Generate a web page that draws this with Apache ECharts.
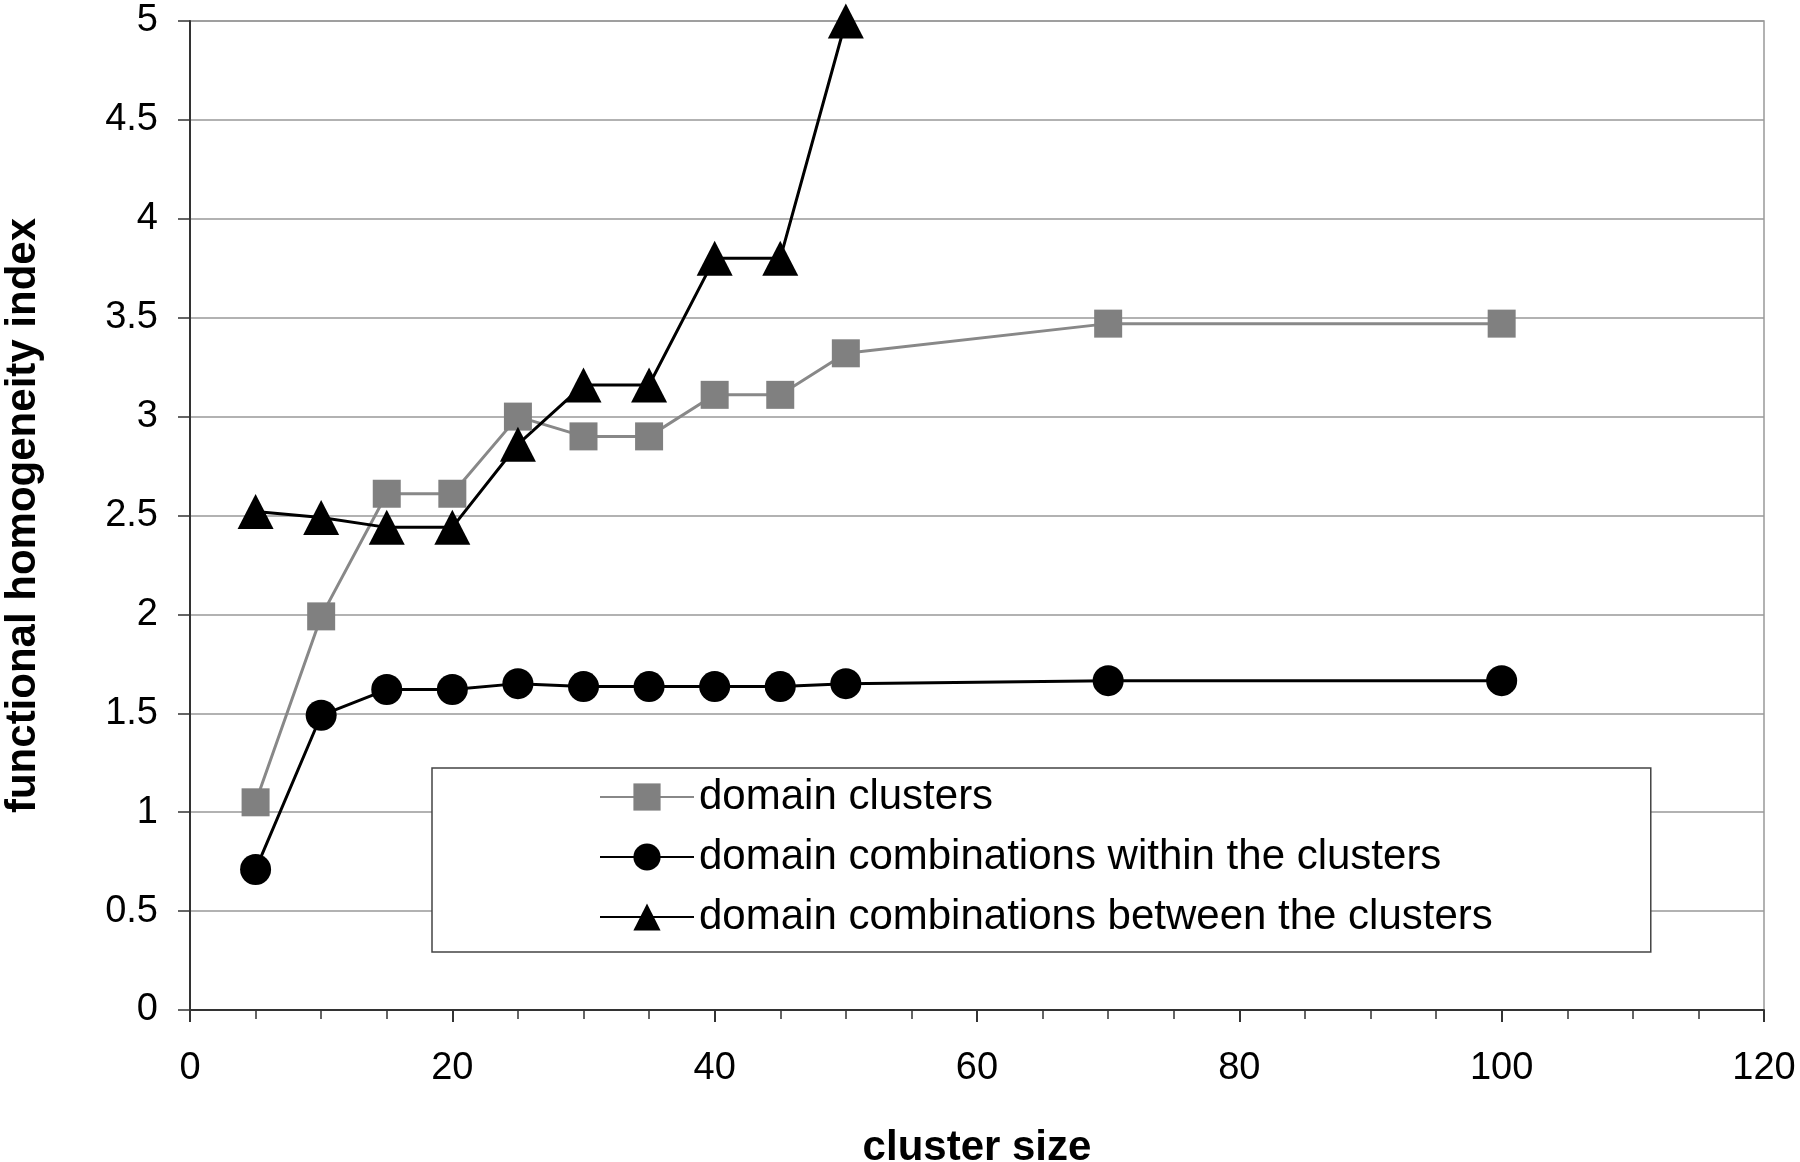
<!DOCTYPE html>
<html>
<head>
<meta charset="utf-8">
<title>functional homogeneity index</title>
<script src="https://cdn.jsdelivr.net/npm/echarts@6/dist/echarts.min.js"></script>
<style>
    html, body { margin: 0; padding: 0; background: #fff; }
    #chart { width: 1800px; height: 1162px; }
</style>
</head>
<body>
<div id="chart"></div>
<script>
// cluster sizes (x)
var clusterSizes = [5, 10, 15, 20, 25, 30, 35, 40, 45, 50, 70, 100];
var betweenSizes = [5, 10, 15, 20, 25, 30, 35, 40, 45, 50];

// functional homogeneity index (y)
var domainClusters = [1.05, 1.99, 2.61, 2.61, 3.0, 2.9, 2.9, 3.11, 3.11, 3.32, 3.47, 3.47];
var withinClusters = [0.71, 1.49, 1.62, 1.62, 1.65, 1.635, 1.635, 1.635, 1.635, 1.65, 1.665, 1.665];
var betweenClusters = [2.52, 2.49, 2.44, 2.44, 2.86, 3.16, 3.16, 3.8, 3.8, 5.0];

var seriesNames = [
    'domain clusters',
    'domain combinations within the clusters',
    'domain combinations between the clusters'
];

var FONT = '"Liberation Sans", Arial, Helvetica, sans-serif';

function pairs(xs, ys) {
    var out = [];
    for (var i = 0; i < ys.length; i++) {
        out.push([xs[i], ys[i]]);
    }
    return out;
}

var chart = echarts.init(document.getElementById('chart'));

var option = {
    animation: false,
    backgroundColor: '#fff',
    grid: {
        left: 190,
        right: 36,
        top: 21,
        bottom: 152,
        containLabel: false,
        outerBoundsMode: 'none',
        show: true,
        borderColor: '#999',
        borderWidth: 1.5
    },
    legend: {
        orient: 'vertical',
        left: 432,
        top: 768,
        padding: [8, 158, 14, 167],
        borderColor: '#444',
        borderWidth: 1.5,
        backgroundColor: '#fff',
        itemWidth: 94,
        itemHeight: 34,
        itemGap: 18,
        textStyle: {
            fontFamily: FONT,
            fontSize: 42,
            lineHeight: 42,
            color: '#000'
        },
        data: seriesNames
    },
    xAxis: {
        type: 'value',
        min: 0,
        max: 120,
        interval: 20,
        name: 'cluster size',
        nameLocation: 'middle',
        nameGap: 117,
        nameTextStyle: {
            fontFamily: FONT,
            fontSize: 42,
            fontWeight: 'bold',
            color: '#000'
        },
        axisLine: { lineStyle: { color: '#333', width: 2 } },
        axisTick: { show: true, length: 12, lineStyle: { color: '#333', width: 2 } },
        minorTick: { show: true, splitNumber: 4, length: 9, lineStyle: { color: '#333', width: 1.5 } },
        splitLine: { show: false },
        axisLabel: {
            fontFamily: FONT,
            fontSize: 38,
            color: '#000',
            margin: 40
        }
    },
    yAxis: {
        type: 'value',
        min: 0,
        max: 5,
        interval: 0.5,
        name: 'functional homogeneity index',
        nameLocation: 'middle',
        nameGap: 146,
        nameTextStyle: {
            fontFamily: FONT,
            fontSize: 42,
            fontWeight: 'bold',
            color: '#000'
        },
        axisLine: { show: true, lineStyle: { color: '#333', width: 2 } },
        axisTick: { show: true, length: 12, lineStyle: { color: '#333', width: 1.5 } },
        splitLine: { show: true, lineStyle: { color: '#999', width: 1.5 } },
        axisLabel: {
            fontFamily: FONT,
            fontSize: 38,
            color: '#000',
            margin: 32
        }
    },
    series: [{
        name: seriesNames[0],
        type: 'line',
        data: pairs(clusterSizes, domainClusters),
        symbol: 'rect',
        symbolSize: 28,
        lineStyle: { color: '#888', width: 3 },
        itemStyle: { color: '#808080' }
    }, {
        name: seriesNames[1],
        type: 'line',
        data: pairs(clusterSizes, withinClusters),
        symbol: 'circle',
        symbolSize: 31,
        lineStyle: { color: '#000', width: 3 },
        itemStyle: { color: '#000' }
    }, {
        name: seriesNames[2],
        type: 'line',
        data: pairs(betweenSizes, betweenClusters),
        symbol: 'triangle',
        symbolSize: [36, 35],
        lineStyle: { color: '#000', width: 3 },
        itemStyle: { color: '#000' }
    }]
};

chart.setOption(option);
</script>
</body>
</html>
